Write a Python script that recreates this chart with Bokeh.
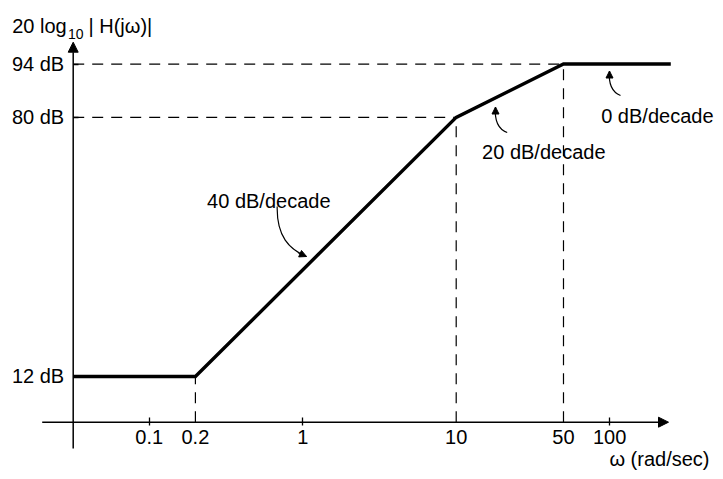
from bokeh.plotting import figure
from bokeh.models import Range1d, FixedTicker, LogAxis, Arrow, NormalHead, Label
from bokeh.embed import file_html
from bokeh.resources import INLINE

# ---------------- data ----------------
omega_corners = [0.2, 10, 50]          # break frequencies (rad/sec)
db_corners = [12, 80, 94]              # magnitude at the breaks (dB)
omega_end = 250                        # where the drawn asymptote stops
slope_labels = ["40 dB/decade", "20 dB/decade", "0 dB/decade"]
omega_ticks_marked = [0.1, 1, 100]
omega_ticks_plain = [0.2, 10, 50]
omega_tick_labels = ["0.1", "1", "100"]
omega_plain_labels = ["0.2", "10", "50"]
db_ticks = [12, 80, 94]
db_tick_labels = ["12 dB", "80 dB", "94 dB"]
y_title = ["20 log", "10", "| H(jω)|"]
x_title = "ω (rad/sec)"

# ---------------- layout ----------------
W, H = 715, 471
PX_1, PX_DEC = 302.2, 153.5      # px of omega=1, px per decade
PY_0, PY_DB = 421.7, 3.81         # px of 0 dB, px per dB


def xd(px):
    return 10 ** ((px - PX_1) / PX_DEC)


def yd(py):
    return (PY_0 - py) / PY_DB


omega_axis = xd(72.7)   # where the vertical axis crosses
FONT = "Liberation Sans"

p = figure(width=W, height=H, x_axis_type="log",
           x_range=Range1d(xd(0), xd(W)), y_range=Range1d(yd(H), yd(0)),
           output_backend="svg", toolbar_location=None, min_border=0,
           outline_line_color=None, background_fill_color="white")
p.grid.visible = False

# x axis (ticks with marks)
xa = p.xaxis[0]
xa.fixed_location = 0
xa.ticker = FixedTicker(ticks=omega_ticks_marked, minor_ticks=[])
xa.major_label_overrides = dict(zip(omega_ticks_marked, omega_tick_labels))
xa.axis_line_color = None
xa.major_tick_in = 5
xa.major_tick_out = 3
xa.major_tick_line_width = 1.3
xa.major_tick_line_color = "black"
xa.minor_tick_line_color = None
xa.major_label_standoff = 5
xa.major_label_text_font = FONT
xa.major_label_text_font_size = "20px"
xa.major_label_text_color = "black"

# x axis labels without tick marks
xb = LogAxis(fixed_location=0, ticker=FixedTicker(ticks=omega_ticks_plain, minor_ticks=[]),
             major_label_overrides=dict(zip(omega_ticks_plain, omega_plain_labels)),
             axis_line_color=None, major_tick_line_color=None, minor_tick_line_color=None,
             major_tick_in=0, major_tick_out=3, major_label_standoff=5,
             major_label_text_font=FONT, major_label_text_font_size="20px",
             major_label_text_color="black")
p.add_layout(xb, "below")

# y axis
ya = p.yaxis[0]
ya.fixed_location = omega_axis
ya.ticker = FixedTicker(ticks=db_ticks, minor_ticks=[])
ya.major_label_overrides = dict(zip(db_ticks, db_tick_labels))
ya.axis_line_color = None
ya.major_tick_in = 5
ya.major_tick_out = 0
ya.major_tick_line_width = 1.3
ya.major_tick_line_color = "black"
ya.minor_tick_line_color = None
ya.major_label_standoff = 9
ya.major_label_text_font = FONT
ya.major_label_text_font_size = "20px"
ya.major_label_text_color = "black"

# axis lines with arrow heads
p.add_layout(Arrow(x_start=xd(41.7), y_start=0, x_end=xd(668), y_end=0,
                   line_width=1.5, line_color="black",
                   end=NormalHead(size=10, fill_color="black", line_color="black", line_width=1)))
p.add_layout(Arrow(x_start=omega_axis, y_start=yd(448), x_end=omega_axis, y_end=yd(41.7),
                   line_width=1.5, line_color="black",
                   end=NormalHead(size=10, fill_color="black", line_color="black", line_width=1)))

# dashed guide lines
p.segment(x0=[omega_axis] * 2, y0=db_corners[1:], x1=omega_corners[1:], y1=db_corners[1:],
          line_color="black", line_width=1.2, line_dash="11 8")
p.segment(x0=omega_corners, y0=[0] * 3, x1=omega_corners, y1=db_corners,
          line_color="black", line_width=1.2, line_dash="11 8")

# asymptotic magnitude
xs = [omega_axis] + omega_corners + [omega_end]
ys = [db_corners[0]] + db_corners + [db_corners[-1]]
p.line(xs, ys, line_color="black", line_width=3.4, line_join="miter")


# slope annotations
def label(px, py, text, align="center", size="20px"):
    p.add_layout(Label(x=xd(px), y=yd(py), text=text, text_align=align,
                       text_baseline="alphabetic", text_font=FONT,
                       text_font_size=size, text_color="black"))


def curved_arrow(p0, c0, c1, p1, tail):
    p.bezier(x0=[xd(p0[0])], y0=[yd(p0[1])], x1=[xd(p1[0])], y1=[yd(p1[1])],
             cx0=[xd(c0[0])], cy0=[yd(c0[1])], cx1=[xd(c1[0])], cy1=[yd(c1[1])],
             line_color="black", line_width=1.2)
    p.add_layout(Arrow(x_start=xd(tail[0]), y_start=yd(tail[1]), x_end=xd(p1[0]), y_end=yd(p1[1]),
                       line_width=1.2, line_color="black",
                       end=NormalHead(size=7, fill_color="black", line_color="black", line_width=1)))


label(268.3, 200.5, slope_labels[0])
curved_arrow((276.7, 206), (276, 236), (289, 249), (306, 256), (298, 252.5))
label(543.3, 151.7, slope_labels[1])
curved_arrow((506.7, 132), (496, 128), (494, 118), (495, 106.5), (495, 113))
label(713, 115, slope_labels[2], align="right")
curved_arrow((620, 95), (610, 91), (608, 82), (609, 70.5), (609, 77))

# axis titles
label(11.7, 25, y_title[0], align="left")
label(67.5, 33, y_title[1], align="left", size="14px")
label(88, 25, y_title[2], align="left")
label(709, 458, x_title, align="right")

open("out.html", "w").write(file_html(p, INLINE))
